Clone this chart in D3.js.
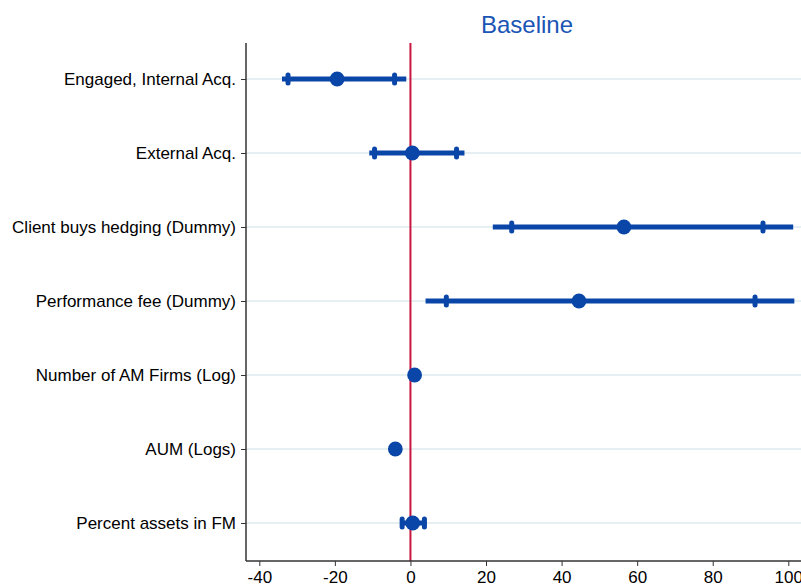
<!DOCTYPE html>
<html>
<head>
<meta charset="utf-8">
<script src="https://cdn.jsdelivr.net/npm/d3@7"></script>
<style>
  html, body { margin: 0; padding: 0; background: #fff; }
  svg { display: block; font-family: Arial, "Liberation Sans", sans-serif; }
</style>
</head>
<body>
<svg id="chart" width="801" height="587"></svg>
<script>
const categories = [
  "Engaged, Internal Acq.",
  "External Acq.",
  "Client buys hedging (Dummy)",
  "Performance fee (Dummy)",
  "Number of AM Firms (Log)",
  "AUM (Logs)",
  "Percent assets in FM"
];
const estimates = [-19.4, 0.5, 56.5, 44.6, 1.1, -4.0, 0.6];
const ciInnerLo = [-32.4, -9.5, 26.8, 9.5, 0.6, -4.5, -2.2];
const ciInnerHi = [-4.2, 12.2, 93.3, 91.2, 1.6, -3.5, 3.7];
const ciOuterLo = [-34.0, -10.9, 21.8, 4.0, 0.3, -4.8, -2.7];
const ciOuterHi = [-1.1, 14.3, 101.3, 101.6, 1.9, -3.2, 4.2];
const xTicks = [-40, -20, 0, 20, 40, 60, 80, 100];
const title = "Baseline";

(function () {
const blue = "#0a46a8";
const svg = d3.select("#chart");

const x = d3.scaleLinear().domain([-40, 100]).range([259.3, 788.3]);
const y = d3.scalePoint().domain(categories).range([79, 523]);

const pLeft = 246, pRight = 801, pTop = 43, pBottom = 561;

// gridlines
svg.append("g").selectAll("line").data(categories).join("line")
  .attr("x1", pLeft).attr("x2", pRight)
  .attr("y1", d => y(d)).attr("y2", d => y(d))
  .attr("stroke", "#e6eff1").attr("stroke-width", 2);

// zero reference line
svg.append("line")
  .attr("x1", x(0)).attr("x2", x(0))
  .attr("y1", pTop).attr("y2", pBottom)
  .attr("stroke", "#c8163f").attr("stroke-width", 2);

// y axis
const yAxis = d3.axisLeft(y).tickSize(5).tickPadding(5);
const gy = svg.append("g").attr("transform", `translate(${pLeft},0)`).call(yAxis);
gy.select(".domain").remove();
gy.append("line").attr("x1", 0).attr("x2", 0).attr("y1", pTop).attr("y2", pBottom)
  .attr("stroke", "#333").attr("stroke-width", 1.5);
gy.selectAll(".tick line").attr("stroke", "#333");
gy.selectAll(".tick text").attr("font-size", 17).attr("fill", "#000")
  .attr("font-family", "Arial, 'Liberation Sans', sans-serif");

// x axis
const xAxis = d3.axisBottom(x).tickValues(xTicks).tickSize(5).tickPadding(5)
  .tickFormat(d => d < 0 ? "-" + Math.abs(d) : d);
const gx = svg.append("g").attr("transform", `translate(0,${pBottom})`).call(xAxis);
gx.select(".domain").remove();
gx.append("line").attr("x1", pLeft).attr("x2", pRight).attr("y1", 0).attr("y2", 0)
  .attr("stroke", "#333").attr("stroke-width", 1.5);
gx.selectAll(".tick line").attr("stroke", "#333");
gx.selectAll(".tick text").attr("font-size", 17).attr("fill", "#000")
  .attr("font-family", "Arial, 'Liberation Sans', sans-serif");

const rows = categories.map((c, i) => ({
  c, est: estimates[i], lo1: ciInnerLo[i], hi1: ciInnerHi[i], lo2: ciOuterLo[i], hi2: ciOuterHi[i]
}));

const marks = svg.append("g");
// outer CI lines
marks.selectAll("line.ci").data(rows).join("line").attr("class", "ci")
  .attr("x1", d => x(d.lo2)).attr("x2", d => x(d.hi2))
  .attr("y1", d => y(d.c)).attr("y2", d => y(d.c))
  .attr("stroke", blue).attr("stroke-width", 5);
// inner CI ticks
const tickData = rows.flatMap(d => [{c: d.c, v: d.lo1}, {c: d.c, v: d.hi1}]);
marks.selectAll("rect.tk").data(tickData).join("rect").attr("class", "tk")
  .attr("x", d => x(d.v) - 2.5).attr("y", d => y(d.c) - 6.5)
  .attr("width", 5).attr("height", 13).attr("rx", 2.5)
  .attr("fill", blue);
// points
marks.selectAll("circle").data(rows).join("circle")
  .attr("cx", d => x(d.est)).attr("cy", d => y(d.c)).attr("r", 7.4)
  .attr("fill", blue);

// title
svg.append("text").attr("x", 527).attr("y", 33).attr("text-anchor", "middle")
  .attr("font-size", 24).attr("fill", "#1a54b4").text(title);
})();
</script>
</body>
</html>
